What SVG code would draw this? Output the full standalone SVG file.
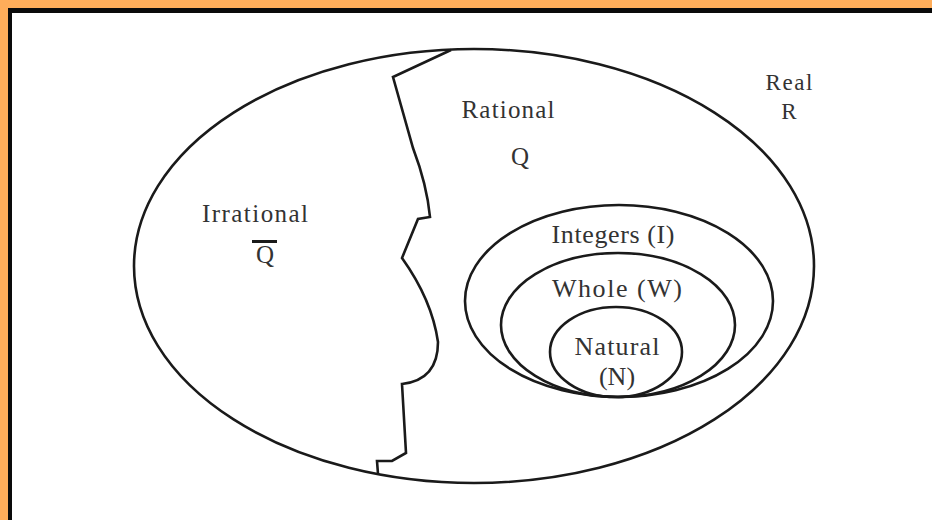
<svg xmlns="http://www.w3.org/2000/svg" width="932" height="520" viewBox="0 0 932 520">
<style>
.ln{fill:none;stroke:#1a1a1a;stroke-width:2.6;stroke-linejoin:miter}
.t{font-family:"Liberation Serif","Times New Roman",serif;fill:#333;text-anchor:middle}
</style>
<rect x="0" y="0" width="932" height="520" fill="#ffffff"/>
<rect x="0" y="0" width="932" height="8" fill="#ffad5a"/>
<rect x="0" y="0" width="8" height="520" fill="#ffad5a"/>
<rect x="8" y="8" width="924" height="5" fill="#0a0a0a"/>
<rect x="8" y="8" width="4" height="512" fill="#0a0a0a"/>
<g id="real">
<ellipse class="ln" cx="474" cy="266" rx="340" ry="217"/>
<text class="t" x="789" y="90" font-size="23" textLength="47" lengthAdjust="spacing">Real</text>
<text class="t" x="789" y="119" font-size="23">R</text>
</g>
<g id="divider">
<path class="ln" d="M451,50 L393,77 L413,148 Q427,185 430,217 L418,219 L402,258 Q432,300 438,342 Q438,380 402,384 L406,453 L392,461 L377,461 L378,474"/>
</g>
<g id="irrational">
<text class="t" x="255" y="222" font-size="25" textLength="106" lengthAdjust="spacing">Irrational</text>
<rect x="252" y="240" width="25" height="3" fill="#1a1a1a"/>
<text class="t" x="265" y="263" font-size="25">Q</text>
</g>
<g id="rational">
<text class="t" x="508" y="118" font-size="25" textLength="93" lengthAdjust="spacing">Rational</text>
<text class="t" x="520" y="165" font-size="25">Q</text>
</g>
<g id="integers">
<ellipse class="ln" cx="619" cy="301" rx="154" ry="96"/>
<text class="t" x="613" y="243" font-size="26" textLength="123" lengthAdjust="spacing">Integers (I)</text>
</g>
<g id="whole">
<ellipse class="ln" cx="618" cy="325" rx="117" ry="72"/>
<text class="t" x="617" y="297" font-size="26" textLength="130" lengthAdjust="spacing">Whole (W)</text>
</g>
<g id="natural">
<ellipse class="ln" cx="616" cy="352" rx="66" ry="45"/>
<text class="t" x="617" y="355" font-size="26" textLength="85" lengthAdjust="spacing">Natural</text>
<text class="t" x="617" y="385" font-size="26">(N)</text>
</g>
<g id="connectors"></g>
</svg>
